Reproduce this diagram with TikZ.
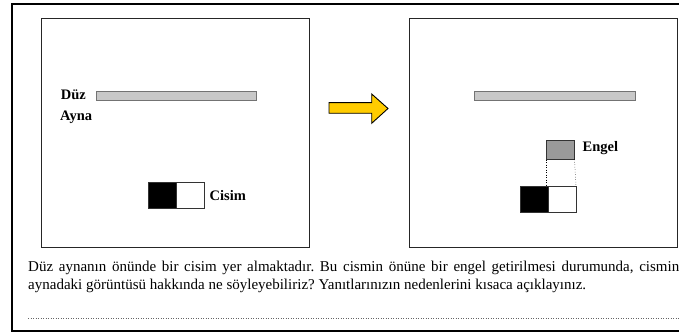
\documentclass[tikz,border=0pt]{standalone}
\usepackage{fontspec}
\setmainfont{Liberation Serif}
\usepackage{xcolor}
\usetikzlibrary{positioning}
\definecolor{arrowyellow}{HTML}{FFCC00}
\definecolor{mirrorgray}{HTML}{C8C8C8}
\definecolor{engelgray}{HTML}{9A9A9A}
\tikzset{
	panel/.style={draw=black!85, line width=0.8pt},
	mirror/.style={draw=black!55, fill=mirrorgray, line width=0.6pt,
			minimum width=160pt, minimum height=9pt, inner sep=0pt, anchor=north west},
	half/.style={draw=black!80, line width=0.6pt, minimum width=28pt,
			minimum height=26pt, inner sep=0pt, outer sep=0pt},
	tag/.style={font=\bfseries\fontsize{14.5}{16}\selectfont, inner sep=0pt}
}

\begin{document}
\frenchspacing
\begin{tikzpicture}[x=1pt, y=-1pt]
			\useasboundingbox (0,0) rectangle (679,334);
			
			% Outer frame
			\draw[line width=1.6pt] (679,4) -- (12,4) -- (12,331) -- (679,331);
			
			% Left panel: mirror and object
			\draw[panel] (41,18) rectangle (309,247);
			\node[mirror] (mirrorL) at (96,91) {};
			\node[tag, anchor=base east] (duz) at (86,99.5) {Düz};
			\node[tag, anchor=base west] (ayna) at (60,121) {Ayna};
			\node[half, fill=black, anchor=north west] (blackL) at (148.5,182.5) {};
			\node[half, fill=white, right=0pt of blackL] (whiteL) {};
			\node[tag, right=5pt of whiteL] (cisim) {Cisim};
			
			% Arrow
			\draw[fill=arrowyellow, line width=0.9pt] (329,102.7) -- (371.7,102.7) -- (371.7,94)
				-- (388,108.5) -- (371.7,123.3) -- (371.7,113.3) -- (329,113.3) -- cycle;
			
			% Right panel: mirror, obstacle and object
			\draw[panel] (409,18) rectangle (677,247);
			\node[mirror, minimum width=160.7pt] (mirrorR) at (474.3,91) {};
			\node[half, fill=black, anchor=north west] (blackR) at (520,186.5) {};
			\node[half, fill=white, right=0pt of blackR] (whiteR) {};
			\node[half, fill=engelgray, minimum height=19pt, anchor=south west] (engel) at (546.5,159.5) {};
			\node[tag, right=8pt of engel, yshift=1.5pt] (engeltxt) {Engel};
			\draw[dotted, line width=0.5pt] (engel.south west) -- (whiteR.north west -| engel.south west);
			\draw[dotted, line width=0.5pt] (engel.south east) -- (whiteR.north east);
			
			% Question text
			\node[anchor=north west, text width=651pt, align=justify, inner sep=0pt,
				font=\fontsize{15}{18}\selectfont] (question) at (28,261) {Düz aynanın önünde bir cisim yer almaktadır. Bu cismin önüne bir engel getirilmesi durumunda, cismin\linebreak aynadaki görüntüsü hakkında ne söyleyebiliriz? Yanıtlarınızın nedenlerini kısaca açıklayınız.};
			
			% Answer line
			\draw[dotted, black!60, line width=0.5pt] (28,318) -- (679,318);
			
		\end{tikzpicture}
\end{document}
